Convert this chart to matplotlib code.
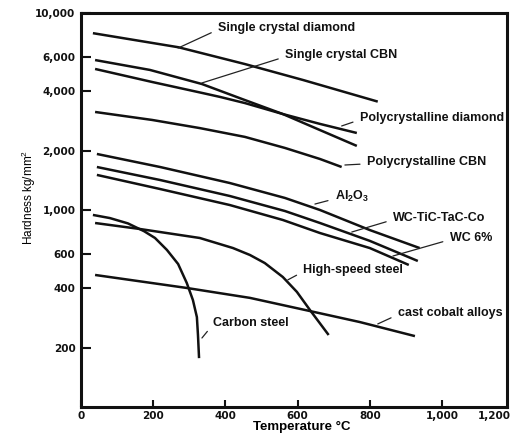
import matplotlib.pyplot as plt
from matplotlib.ticker import FixedLocator, NullLocator

plt.rcParams['font.family'] = ['Liberation Sans', 'DejaVu Sans']
plt.rcParams['mathtext.default'] = 'regular'

# temperature (deg C) / hardness (kg/mm2)
sc_diamond_t = [33, 270, 455, 615, 822]
sc_diamond_h = [7900, 6700, 5500, 4570, 3550]

sc_cbn_t = [39, 191, 335, 454, 559, 662, 764]
sc_cbn_h = [5770, 5140, 4360, 3615, 3070, 2545, 2115]

pc_diamond_t = [39, 197, 335, 385, 454, 559, 662, 764]
pc_diamond_h = [5200, 4465, 3930, 3750, 3490, 3070, 2735, 2460]

pc_cbn_t = [39, 197, 329, 454, 565, 662, 722]
pc_cbn_h = [3145, 2865, 2605, 2350, 2065, 1815, 1653]

al2o3_t = [44, 219, 412, 565, 662, 800, 938]
al2o3_h = [1925, 1653, 1371, 1151, 1000, 791, 641]

wc_tic_t = [44, 219, 412, 565, 662, 800, 933]
wc_tic_h = [1653, 1420, 1178, 988, 859, 697, 551]

wc6_t = [44, 219, 412, 559, 662, 800, 908]
wc6_h = [1507, 1278, 1060, 890, 764, 641, 526]

hss_t = [39, 163, 329, 421, 468, 509, 559, 598, 634, 686]
hss_h = [859, 801, 721, 641, 591, 538, 457, 384, 311, 232]

carbon_t = [33, 80, 130, 175, 205, 238, 269, 293, 310, 321, 324, 327]
carbon_h = [944, 910, 855, 780, 721, 627, 532, 426, 349, 286, 232, 177]

cobalt_t = [39, 293, 468, 634, 772, 925]
cobalt_h = [468, 402, 358, 307, 270, 229]

# label text, where the text sits, where its leader line meets the curve
labels = ['Single crystal diamond', 'Single crystal CBN', 'Polycrystalline diamond',
          'Polycrystalline CBN', r'Al$_2$O$_3$', 'WC-TiC-TaC-Co', 'WC 6%',
          'High-speed steel', 'cast cobalt alloys', 'Carbon steel']
label_xy = [(379, 8400), (565, 6120), (772, 2930), (792, 1752), (703, 1170),
            (864, 911), (1021, 721), (615, 496), (877, 300), (365, 267)]
leader_xy = [(269, 6640), (335, 4415), (722, 2670), (731, 1692), (648, 1072),
             (750, 773), (864, 584), (573, 442), (822, 264), (335, 224)]

xticks = [0, 200, 400, 600, 800, 1000]
xticklabels = ['0', '200', '400', '600', '800', '1,000']
yticks = [200, 400, 600, 1000, 2000, 4000, 6000, 10000]
yticklabels = ['200', '400', '600', '1,000', '2,000', '4,000', '6,000', '10,000']

fig = plt.figure(figsize=(5.16, 4.37), dpi=100)
ax = fig.add_axes([81/516, 30/437, 426/516, 394/437])

for t, h in [(sc_diamond_t, sc_diamond_h), (sc_cbn_t, sc_cbn_h), (pc_diamond_t, pc_diamond_h),
             (pc_cbn_t, pc_cbn_h), (al2o3_t, al2o3_h), (wc_tic_t, wc_tic_h), (wc6_t, wc6_h),
             (hss_t, hss_h), (carbon_t, carbon_h), (cobalt_t, cobalt_h)]:
    ax.plot(t, h, color='#111111', lw=1.8, solid_capstyle='butt', solid_joinstyle='round')

for txt, pos, end in zip(labels, label_xy, leader_xy):
    ax.annotate(txt, xy=end, xytext=pos, ha='left', va='center', fontsize=9,
                fontweight='bold', color='#111111',
                arrowprops=dict(arrowstyle='-', lw=0.9, color='#222222',
                                relpos=(0, 0.35), shrinkA=3, shrinkB=0))

ax.set_yscale('log')
ax.set_xlim(0, 1180)
ax.set_ylim(100, 10000)
ax.xaxis.set_major_locator(FixedLocator(xticks))
ax.set_xticklabels(xticklabels)
ax.yaxis.set_major_locator(FixedLocator(yticks))
ax.yaxis.set_minor_locator(NullLocator())
ax.set_yticklabels(yticklabels)
ax.tick_params(axis='both', direction='in', width=1.5, labelsize=7.5, colors='#111111')
ax.tick_params(axis='x', length=5, pad=3)
ax.tick_params(axis='y', length=7, pad=4)
for lab in ax.get_xticklabels() + ax.get_yticklabels():
    lab.set_fontfamily('DejaVu Sans')
    lab.set_fontweight('bold')
ax.text(1146, -0.011, '1,200', transform=ax.get_xaxis_transform(), ha='center', va='top',
        fontsize=7.5, fontweight='bold', family='DejaVu Sans', color='#111111')

for s in ax.spines.values():
    s.set_linewidth(2.2)
    s.set_color('#111111')

ax.set_xlabel('Temperature °C', fontsize=9.5, fontweight='bold')
ax.xaxis.set_label_coords(0.519, -0.036)
ax.set_ylabel('Hardness kg/mm$^2$', fontsize=8.5)
ax.yaxis.set_label_coords(-0.100, 0.533)

fig.savefig('out.png', dpi=100)
